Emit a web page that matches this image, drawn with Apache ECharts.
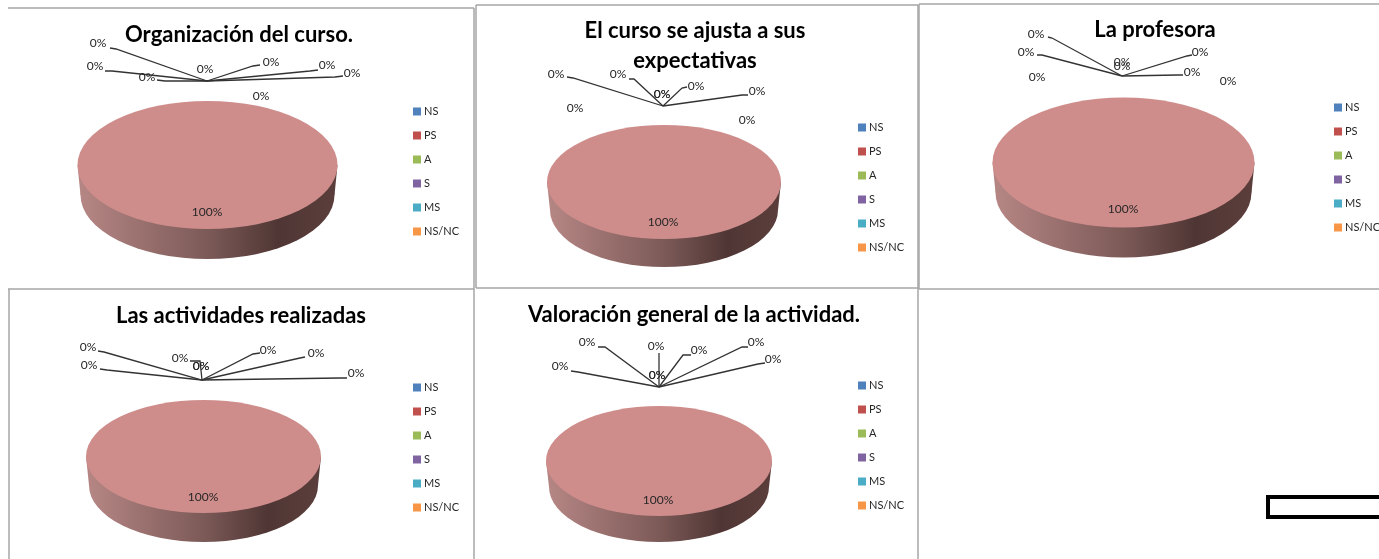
<!DOCTYPE html>
<html>
<head>
<meta charset="utf-8">
<title>Valoracion del curso</title>
<script src="https://cdn.jsdelivr.net/npm/echarts@6/dist/echarts.min.js"></script>
<style>
  html, body { margin: 0; padding: 0; background: #fff; overflow: hidden; }
  #chartDom { width: 1379px; height: 559px; }
</style>
</head>
<body>
<div id="chartDom"></div>
<script>
const categories = ['NS', 'PS', 'A', 'S', 'MS', 'NS/NC'];
const titles = [
  'Organización del curso.',
  'El curso se ajusta a sus\nexpectativas',
  'La profesora',
  'Las actividades realizadas',
  'Valoración general de la actividad.'
];

// one value per label in the picture, the last three rows are not in the legend
const organizacion = [0, 100, 0, 0, 0, 0, 0, 0, 0];
const expectativas = [0, 100, 0, 0, 0, 0, 0, 0, 0];
const profesora = [0, 100, 0, 0, 0, 0, 0, 0, 0];
const actividades = [0, 100, 0, 0, 0, 0, 0, 0, 0];
const valoracion = [0, 100, 0, 0, 0, 0, 0, 0, 0];
const charts = [organizacion, expectativas, profesora, actividades, valoracion];

const legendColors = ['#4f81bd', '#c0504d', '#9bbb59', '#8064a2', '#4bacc6', '#f79646'];
const topColors = ['#8fa9d0', '#ce8d8b', '#bcd08f', '#a592bf', '#8bc8d9', '#f9bd8a'];

// label position, then the leader line that goes to the origin
const layouts = [
  {
    cx: 207.5, cy: 165, rx: 130, ry: 64, depth: 30, origin: [207, 81],
    titleX: 239, titleY: 20, legendX: 413, legendY: 105,
    labels: [
      [98, 43, [110, 48, 116, 49]], [207, 212], [95, 66, [105, 71, 112, 71]],
      [147, 77, [157, 80, 165, 81]], [205, 69], [271, 62, [260, 65, 253, 66]],
      [327, 65, [318, 70, 310, 71]], [352, 73, [343, 76, 335, 77]], [261, 96]
    ]
  },
  {
    cx: 664, cy: 182, rx: 117, ry: 57, depth: 28, origin: [663, 106],
    titleX: 695, titleY: 16, legendX: 858, legendY: 121,
    labels: [
      [556, 74, [567, 77, 573, 78]], [663, 222], [618, 74, [629, 79, 634, 79]],
      [662, 94], [662, 94], [696, 86, [687, 87, 682, 88]],
      [757, 91, [748, 95, 742, 95]], [575, 108], [747, 120]
    ]
  },
  {
    cx: 1123.5, cy: 162.5, rx: 131, ry: 65, depth: 30, origin: [1122, 76],
    titleX: 1155, titleY: 15, legendX: 1334, legendY: 101,
    labels: [
      [1036, 34, [1048, 37, 1052, 38]], [1123, 209], [1026, 52, [1037, 55, 1042, 55]],
      [1037, 77], [1122, 62], [1122, 66],
      [1200, 52, [1192, 55, 1187, 56]], [1192, 72, [1183, 75, 1178, 75]], [1228, 81]
    ]
  },
  {
    cx: 203.5, cy: 456.5, rx: 117.5, ry: 56.5, depth: 29, origin: [202, 380],
    titleX: 241, titleY: 301, legendX: 413, legendY: 381,
    labels: [
      [88, 347, [98, 351, 104, 352]], [203, 497], [89, 365, [100, 369, 107, 370]],
      [180, 358, [190, 361, 200, 361]], [201, 366], [201, 366],
      [268, 350, [260, 353, 253, 354]], [316, 353, [305, 357, 300, 358]], [356, 373, [347, 378, 340, 378]]
    ]
  },
  {
    cx: 659, cy: 461, rx: 113, ry: 55, depth: 26, origin: [659, 387],
    titleX: 694, titleY: 300, legendX: 858, legendY: 379,
    labels: [
      [560, 366, [571, 371, 578, 372]], [658, 500], [587, 342, [598, 347, 605, 347]],
      [656, 346, [659, 353, 659, 353]], [657, 375], [657, 375],
      [699, 350, [691, 355, 683, 355]], [756, 342, [748, 347, 742, 347]], [773, 359, [765, 363, 758, 364]]
    ]
  }
];

const fontName = 'Lato';
const frameColor = '#a6a6a6';
const sideInset = 3;

// x1, y1, x2, y2 of the sheet borders around the charts
const frames = [
  [8, 8, 474, 8], [474, 8, 474, 289], [8, 289, 474, 289],
  [476, 5, 918, 5], [476, 5, 476, 288], [918, 5, 918, 288], [476, 288, 918, 288],
  [919, 4, 1379, 4], [919, 4, 919, 289], [919, 289, 1379, 289],
  [9, 289, 9, 559], [474, 289, 474, 559], [918, 288, 918, 559]
];

const myChart = echarts.init(document.getElementById('chartDom'));

const sideGradient = () => new echarts.graphic.LinearGradient(0, 0, 1, 0, [
  { offset: 0, color: '#b58684' },
  { offset: 0.5, color: '#7c5a58' },
  { offset: 0.78, color: '#4f3634' },
  { offset: 1, color: '#5b3e3c' }
]);

// pie3d slice of one category, the angles come from the values of that chart
const renderSlice = (catIndex) => (params, api) => {
  const chartIndex = api.value(0);
  const values = charts[chartIndex];
  const v = values[catIndex];
  if (!v) return null;
  const total = values.reduce((a, b) => a + b, 0);
  const before = values.slice(0, catIndex).reduce((a, b) => a + b, 0);
  const start = -Math.PI / 2 + before / total * Math.PI * 2;
  const end = start + v / total * Math.PI * 2;
  const p = layouts[chartIndex];
  const sector = (y, r, fill) => ({
    type: 'sector',
    x: p.cx,
    y: y,
    scaleY: p.ry / r,
    shape: { cx: 0, cy: 0, r: r, r0: 0, startAngle: start, endAngle: end, clockwise: true },
    style: { fill: fill }
  });
  const bottomR = p.rx - sideInset;
  return {
    type: 'group',
    children: [
      sector(p.cy + p.depth, bottomR, sideGradient()),
      {
        type: 'polygon',
        shape: {
          points: [
            [p.cx - p.rx, p.cy], [p.cx + p.rx, p.cy],
            [p.cx + bottomR, p.cy + p.depth], [p.cx - bottomR, p.cy + p.depth]
          ]
        },
        style: { fill: sideGradient() }
      },
      sector(p.cy, p.rx, topColors[catIndex])
    ]
  };
};

// leader lines and percent labels of one chart
const renderLabels = (params, api) => {
  const chartIndex = api.value(0);
  const values = charts[chartIndex];
  const total = values.reduce((a, b) => a + b, 0);
  const p = layouts[chartIndex];
  const children = [];
  p.labels.forEach((item, i) => {
    if (item[2]) {
      const e = item[2];
      children.push({
        type: 'polyline',
        shape: { points: [[e[0], e[1]], [e[2], e[3]], p.origin] },
        style: { stroke: '#333', lineWidth: 1.3, fill: null }
      });
    }
    children.push({
      type: 'text',
      style: {
        text: Math.round(values[i] / total * 100) + '%',
        x: item[0],
        y: item[1],
        align: 'center',
        verticalAlign: 'middle',
        fill: '#262626',
        font: '12px ' + fontName
      }
    });
  });
  return { type: 'group', children: children };
};

const chartRows = charts.map((c, i) => [i]);

const series = categories.map((name, c) => ({
  name: name,
  type: 'custom',
  coordinateSystem: 'none',
  itemStyle: { color: legendColors[c] },
  renderItem: renderSlice(c),
  data: chartRows,
  silent: true,
  z: 2
}));
series.push({
  name: 'etiquetas',
  type: 'custom',
  coordinateSystem: 'none',
  renderItem: renderLabels,
  data: chartRows,
  silent: true,
  z: 3
});

const option = {
  animation: false,
  backgroundColor: '#fff',
  title: layouts.map((p, i) => ({
    text: titles[i],
    left: p.titleX,
    top: p.titleY,
    padding: 0,
    textAlign: 'center',
    textStyle: { fontFamily: fontName, fontSize: 22, fontWeight: 'bold', color: '#000', lineHeight: 30 }
  })),
  legend: layouts.map((p) => ({
    data: categories.map((name, c) => ({ name: name, itemStyle: { color: legendColors[c] } })),
    orient: 'vertical',
    left: p.legendX,
    top: p.legendY,
    padding: 0,
    icon: 'rect',
    itemWidth: 8,
    itemHeight: 8,
    itemGap: 11,
    selectedMode: false,
    textStyle: { fontFamily: fontName, fontSize: 11, color: '#262626', padding: [0, 0, 0, -2], lineHeight: 13 }
  })),
  graphic: {
    elements: frames.map((f) => ({
      type: 'line',
      silent: true,
      shape: { x1: f[0], y1: f[1], x2: f[2], y2: f[3] },
      style: { stroke: frameColor, lineWidth: 1.5 }
    })).concat([{
      type: 'rect',
      silent: true,
      shape: { x: 1268, y: 497, width: 130, height: 20 },
      style: { fill: '#fff', stroke: '#000', lineWidth: 4 }
    }])
  },
  series: series
};

myChart.setOption(option);
</script>
</body>
</html>
